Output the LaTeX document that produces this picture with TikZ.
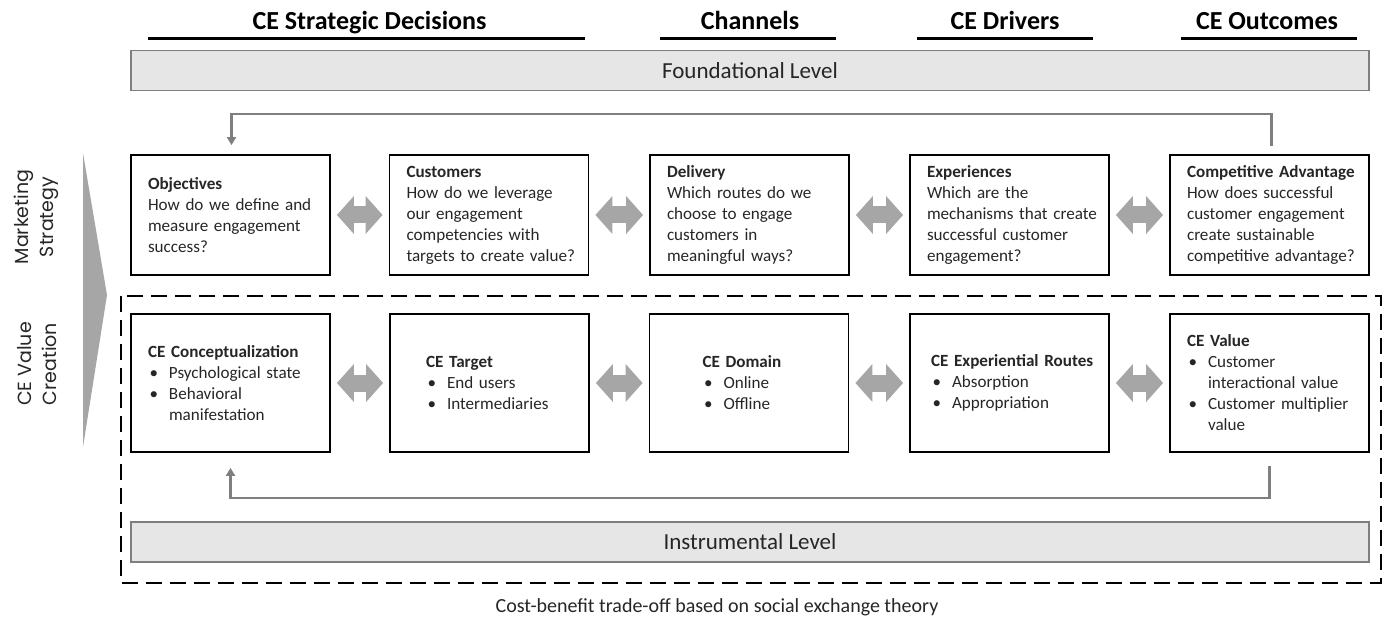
\documentclass[tikz,border=0pt]{standalone}
\usepackage{fontspec}
\setmainfont{Carlito}
\newfontfamily\vlabfont{Poppins}
\usetikzlibrary{arrows.meta}
\definecolor{arrowgray}{HTML}{A6A6A6}
\definecolor{linegray}{HTML}{7F7F7F}
\definecolor{barfill}{HTML}{E6E6E6}
\definecolor{bodytext}{HTML}{262626}
\newcommand{\bul}{\makebox[21pt][l]{\hspace{1.5pt}\textbullet}}
\newcommand{\bulind}{\hspace*{21pt}}
\begin{document}
\begin{tikzpicture}[x=1pt,y=-1pt,
  box/.style={draw=black, line width=1.8pt, minimum width=199pt, minimum height=120pt,
    inner xsep=17pt, inner ysep=0pt, text width=165pt, align=left,
    font=\fontsize{17.1}{21}\selectfont, text=bodytext},
  lowbox/.style={box, minimum height=138pt},
  hdr/.style={font=\fontsize{26}{30}\selectfont\bfseries, anchor=base, inner sep=0pt},
  hline/.style={line width=2.6pt, black},
  bar/.style={draw=linegray, line width=1.4pt, fill=barfill, minimum width=1238pt,
    minimum height=40pt, font=\fontsize{23}{26}\selectfont, text=bodytext},
  dbl/.style={line width=17pt, arrowgray, shorten <=6pt, shorten >=6pt,
    {Triangle[length=17pt,width=37pt]}-{Triangle[length=17pt,width=37pt]}},
  fb/.style={draw=linegray, line width=2.2pt, -{Triangle[length=8pt,width=9pt]}},
  vlab/.style={rotate=90, align=center, font=\vlabfont\fontsize{19}{25}\selectfont, text=bodytext}
]
\useasboundingbox (0,0) rectangle (1391,617);

% headers
\node[hdr] (h1) at (369.5,30) {CE Strategic Decisions};
\node[hdr] (h2) at (750,30) {Channels};
\node[hdr] (h3) at (1005,30) {CE Drivers};
\node[hdr] (h4) at (1267,30) {CE Outcomes};
\draw[hline] (148,38.3) -- (585,38.3);
\draw[hline] (660,38.3) -- (836,38.3);
\draw[hline] (917,38.3) -- (1093,38.3);
\draw[hline] (1181,38.3) -- (1357,38.3);

% foundational bar
\node[bar] (found) at (750,70.7) {Foundational Level};

% wedge
\fill[arrowgray] (83,153) -- (107,295) -- (83,447) -- cycle;

% side labels
\node[vlab] (ms) at (36,217) {Marketing\\Strategy};
\node[vlab] (cv) at (37,364) {CE Value\\Creation};

% top row
\node[box] (m1) at (230.5,215) {\textbf{Objectives}\\\mbox{How do we define and}\\\mbox{measure engagement}\\success?};
\node[box] (m2) at (489,215) {\textbf{Customers}\\\mbox{How do we leverage}\\\mbox{our engagement}\\\mbox{competencies with}\\\mbox{targets to create value?}};
\node[box] (m3) at (749.5,215) {\textbf{Delivery}\\\mbox{Which routes do we}\\\mbox{choose to engage}\\\mbox{customers in}\\\mbox{meaningful ways?}};
\node[box] (m4) at (1009.5,215) {\textbf{Experiences}\\\mbox{Which are the}\\\mbox{mechanisms that create}\\\mbox{successful customer}\\engagement?};
\node[box] (m5) at (1269.5,215) {\mbox{\textbf{Competitive Advantage}}\\\mbox{How does successful}\\\mbox{customer engagement}\\\mbox{create sustainable}\\\mbox{competitive advantage?}};

% dashed frame
\draw[line width=2.7pt, dash pattern=on 16pt off 8pt] (121,296) rectangle (1381,583);

% bottom row
\node[lowbox] (v1) at (230.5,383) {\mbox{\textbf{CE Conceptualization}}\\\mbox{\bul Psychological state}\\\mbox{\bul Behavioral}\\\mbox{\bulind manifestation}};
\node[lowbox, inner xsep=36pt, text width=127pt] (v2) at (489.5,383) {\textbf{CE Target}\\\mbox{\bul End users}\\\mbox{\bul Intermediaries}};
\node[lowbox, inner xsep=53pt, text width=93pt] (v3) at (749,383) {\mbox{\textbf{CE Domain}}\\\mbox{\bul Online}\\\mbox{\bul Offline}};
\node[lowbox, inner xsep=21pt, text width=157pt] (v4) at (1009.5,383) {\mbox{\textbf{CE Experiential Routes}}\\\mbox{\bul Absorption}\\\mbox{\bul Appropriation}};
\node[lowbox] (v5) at (1269.5,383) {\textbf{CE Value}\\\mbox{\bul Customer}\\\mbox{\bulind interactional value}\\\mbox{\bul Customer multiplier}\\\mbox{\bulind value}};

% double arrows
\draw[dbl] (m1.east) -- (m2.west);
\draw[dbl] (m2.east) -- (m3.west);
\draw[dbl] (m3.east) -- (m4.west);
\draw[dbl] (m4.east) -- (m5.west);
\draw[dbl] (v1.east) -- (v2.west);
\draw[dbl] (v2.east) -- (v3.west);
\draw[dbl] (v3.east) -- (v4.west);
\draw[dbl] (v4.east) -- (v5.west);

% feedback loops
\draw[fb] ([xshift=2pt,yshift=8pt]m5.north) -- ++(0,-32) -| ([xshift=1pt,yshift=9pt]m1.north);
\draw[fb] ([yshift=-13pt]v5.south) -- ++(0,32) -| ([yshift=-15pt]v1.south);

% instrumental bar
\node[bar] (instr) at (750,542) {Instrumental Level};

% caption
\node[font=\fontsize{20}{24}\selectfont, text=bodytext, anchor=base, inner sep=0pt] (cap) at (717,612) {Cost-benefit trade-off based on social exchange theory};
\end{tikzpicture}
\end{document}
